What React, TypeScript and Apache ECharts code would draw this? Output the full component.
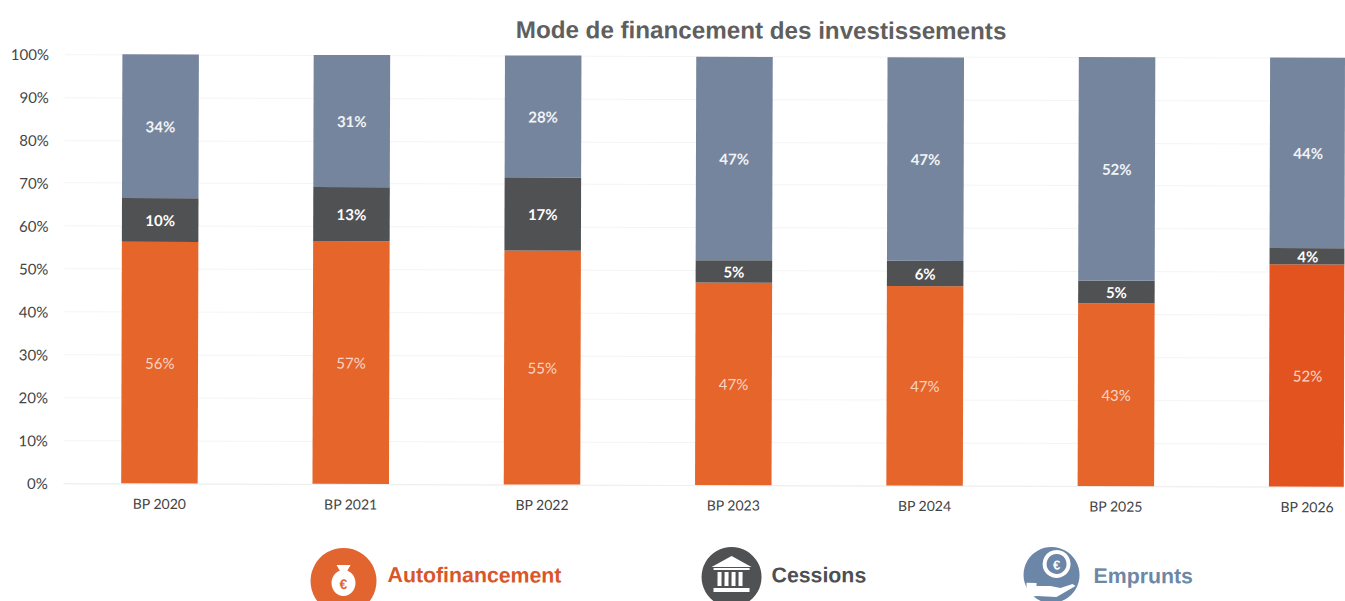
import React, { useEffect, useRef } from "react";
import * as echarts from "echarts";

const categories = ["BP 2020", "BP 2021", "BP 2022", "BP 2023", "BP 2024", "BP 2025", "BP 2026"];
const autofinancement = [56.3, 56.6, 54.5, 47.2, 46.5, 42.6, 51.8];
const cessions = [10.2, 12.6, 17.1, 5.2, 5.9, 5.3, 3.8];
const emprunts = [33.5, 30.8, 28.4, 47.4, 47.4, 52.1, 44.4];
const yMax = 100;
const yStep = 10;

const ORANGE = "#e5652a";
const ORANGE_LAST = "#e2531f";
const DARK = "#505153";
const BLUE = "#75859d";
const FONT = "Lato, 'Open Sans', sans-serif";
const TITLE_FONT = "'Liberation Sans', Arial, sans-serif";

function label(color: string, bold: boolean) {
  return {
    show: true,
    position: "inside",
    color,
    fontFamily: FONT,
    fontSize: 15,
    fontWeight: bold ? 700 : 400,
    formatter: (p: any) => `${Math.round(p.value)}%`,
  };
}

function legendText(x: number, y: number, text: string, fill: string) {
  return {
    type: "text",
    x,
    y,
    style: { text, fill, font: `bold 21.3px ${TITLE_FONT}`, textVerticalAlign: "middle" },
  };
}

function bankIcon() {
  const c = "#ffffff";
  const cols = [-14, -7, 0, 7].map((dx) => ({
    type: "rect",
    shape: { x: 732 + dx + 1, y: 570, width: 4, height: 14 },
    style: { fill: c },
  }));
  return [
    { type: "circle", shape: { cx: 733, cy: 575, r: 30 }, style: { fill: DARK } },
    { type: "polygon", shape: { points: [[733, 554], [753, 565], [713, 565]] }, style: { fill: c } },
    { type: "rect", shape: { x: 715, y: 566, width: 36, height: 2 }, style: { fill: c } },
    ...cols,
    { type: "rect", shape: { x: 715, y: 586, width: 36, height: 4 }, style: { fill: c } },
  ];
}

function bagIcon() {
  return [
    { type: "circle", shape: { cx: 345, cy: 580, r: 33 }, style: { fill: "#e2652f" } },
    { type: "polygon", shape: { points: [[338, 564], [352, 564], [348, 571], [342, 571]] }, style: { fill: "#fff" } },
    { type: "ellipse", shape: { cx: 345, cy: 582, rx: 12, ry: 13 }, style: { fill: "#fff" } },
    {
      type: "text",
      x: 345,
      y: 583,
      style: { text: "€", fill: "#e2652f", font: `bold 14px ${TITLE_FONT}`, textAlign: "center", textVerticalAlign: "middle" },
    },
  ];
}

function coinIcon() {
  const blue = "#6b86a6";
  return [
    { type: "circle", shape: { cx: 1053, cy: 572, r: 28 }, style: { fill: blue } },
    { type: "circle", shape: { cx: 1058, cy: 561, r: 14 }, style: { fill: "#fff" } },
    { type: "circle", shape: { cx: 1058, cy: 561, r: 10 }, style: { fill: blue } },
    {
      type: "text",
      x: 1058,
      y: 562,
      style: { text: "€", fill: "#fff", font: `bold 13px ${TITLE_FONT}`, textAlign: "center", textVerticalAlign: "middle" },
    },
    {
      type: "polygon",
      shape: { points: [[1028, 580], [1038, 580], [1038, 583], [1052, 583], [1062, 585], [1074, 581], [1077, 583], [1058, 594], [1038, 593], [1028, 595]] },
      style: { fill: "#fff" },
    },
  ];
}

export default function App() {
  const ref = useRef<HTMLDivElement>(null);
  useEffect(() => {
    document.body.style.margin = "0";
    document.body.style.overflow = "hidden";
    const chart = echarts.init(ref.current!, undefined, { renderer: "svg" });
    chart.setOption({
      animation: false,
      backgroundColor: "#ffffff",
      title: {
        text: "Mode de financement des investissements",
        left: 756,
        top: 11,
        textAlign: "center",
        textStyle: { color: "#5f5f5f", fontFamily: TITLE_FONT, fontSize: 24.2, fontWeight: 700 },
      },
      grid: { left: 65, top: 54, width: 1339, height: 429, outerBoundsMode: "none" },
      xAxis: {
        type: "category",
        data: categories,
        axisTick: { show: false },
        axisLine: { lineStyle: { color: "#eeeeee" } },
        axisLabel: { color: "#444444", fontFamily: FONT, fontSize: 14, margin: 13 },
      },
      yAxis: {
        type: "value",
        min: 0,
        max: yMax,
        interval: yStep,
        axisLine: { show: false },
        axisTick: { show: false },
        splitLine: { lineStyle: { color: "#f4f4f4", width: 1 } },
        axisLabel: { color: "#444444", fontFamily: FONT, fontSize: 15, margin: 16, formatter: "{value}%" },
      },
      series: [
        {
          name: "Autofinancement",
          type: "bar",
          stack: "total",
          barWidth: 76.5,
          data: autofinancement,
          itemStyle: {
            color: (p: any) => (p.dataIndex === categories.length - 1 ? ORANGE_LAST : ORANGE),
          },
          label: label("#f9d3c2", false),
        },
        {
          name: "Cessions",
          type: "bar",
          stack: "total",
          barWidth: 76.5,
          data: cessions,
          itemStyle: { color: DARK },
          label: label("#ffffff", true),
        },
        {
          name: "Emprunts",
          type: "bar",
          stack: "total",
          barWidth: 76.5,
          data: emprunts,
          itemStyle: { color: BLUE },
          label: label("#f2f4f7", true),
        },
      ],
      graphic: [
        ...bagIcon(),
        legendText(389, 574, "Autofinancement", "#d9562a"),
        ...bankIcon(),
        legendText(773, 573, "Cessions", "#4d4f52"),
        ...coinIcon(),
        legendText(1095, 573, "Emprunts", "#6d87a6"),
      ],
    });
    return () => chart.dispose();
  }, []);
  return (
    <div
      ref={ref}
      style={{
        position: "absolute",
        left: 0,
        top: 0,
        width: 1345,
        height: 601,
        transformOrigin: "0 54px",
        transform: "rotate(0.16deg)",
      }}
    />
  );
}
